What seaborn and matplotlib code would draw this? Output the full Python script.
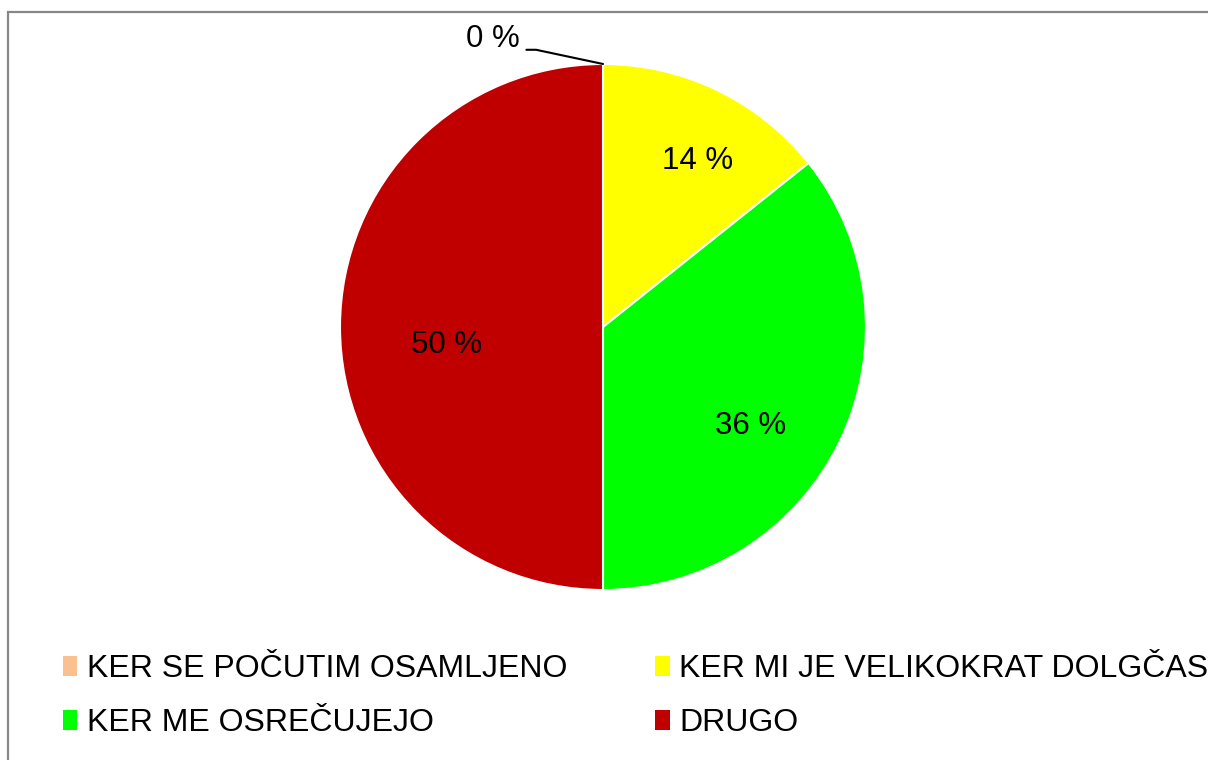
import matplotlib
matplotlib.use("Agg")
import matplotlib.pyplot as plt
import matplotlib.patches as mpatches
import numpy as np
import seaborn as sns

# Data
categories = ['KER SE POČUTIM OSAMLJENO', 'KER MI JE VELIKOKRAT DOLGČAS',
              'KER ME OSREČUJEJO', 'DRUGO']
counts = [0, 2, 5, 7]
colors = ['#FAC090', '#FFFF00', '#00FF00', '#C00000']

sns.set_theme(style='white')
plt.rcParams['font.family'] = ['Liberation Sans', 'DejaVu Sans']
plt.rcParams['text.color'] = 'black'

fig = plt.figure(figsize=(12.08, 7.6), dpi=100)
W, H = 1208, 760

# outer frame (chart area border)
frame = mpatches.Rectangle((8 / W, -0.1), 1.2, 1.1 - 12 / H, transform=fig.transFigure,
                           fill=False, edgecolor='#888888', linewidth=1.6, clip_on=False)
fig.patches.append(frame)

# pie axes: centre (603, 327), radius 263 px
cx, cy, r = 603, 327, 263
ax = fig.add_axes([(cx - r) / W, (H - cy - r) / H, 2 * r / W, 2 * r / H])
wedges, _ = ax.pie(counts, colors=colors, startangle=90, counterclock=False,
                   wedgeprops=dict(edgecolor='white', linewidth=1.5))
ax.set_xlim(-1, 1)
ax.set_ylim(-1, 1)
ax.axis('off')

total = sum(counts)
pcts = [100 * c / total for c in counts]

# inside label positions (fraction of radius, angle offset in degrees) per wedge
label_place = [None, (0.725, -4), (0.675, -8), (0.6, 6.5)]
for w, p, place in zip(wedges, pcts, label_place):
    mid = np.deg2rad((w.theta1 + w.theta2) / 2)
    if place is None:
        # zero slice: label outside with leader line
        ex, ey = np.cos(mid), np.sin(mid)
        ax.annotate(f'{p:.0f} %', xy=(ex, ey), xytext=(-0.418, 1.094),
                    ha='center', va='center', fontsize=22.5, color='black',
                    arrowprops=dict(arrowstyle='-', color='black', lw=1.5,
                                    shrinkA=0, shrinkB=0,
                                    connectionstyle='angle,angleA=0,angleB=168,rad=0',
                                    relpos=(1.12, 0.15)))
        continue
    rf, off = place
    a = mid + np.deg2rad(off)
    ax.text(rf * np.cos(a), rf * np.sin(a), f'{p:.0f} %', ha='center', va='center',
            fontsize=22.5, color='black')

# legend filled row by row (two columns)
handles = [mpatches.Patch(facecolor=c, edgecolor='none') for c in colors]
order = [0, 2, 1, 3]
fig.legend([handles[i] for i in order], [categories[i] for i in order],
           loc='upper left', bbox_to_anchor=(63 / W, 1 - 654 / H),
           ncol=2, frameon=False, fontsize=23, labelcolor='black',
           handlelength=0.45, handleheight=0.6,
           handletextpad=0.3, columnspacing=2.75, labelspacing=0.76,
           borderaxespad=0, borderpad=0)

fig.savefig('out.png', dpi=100)
